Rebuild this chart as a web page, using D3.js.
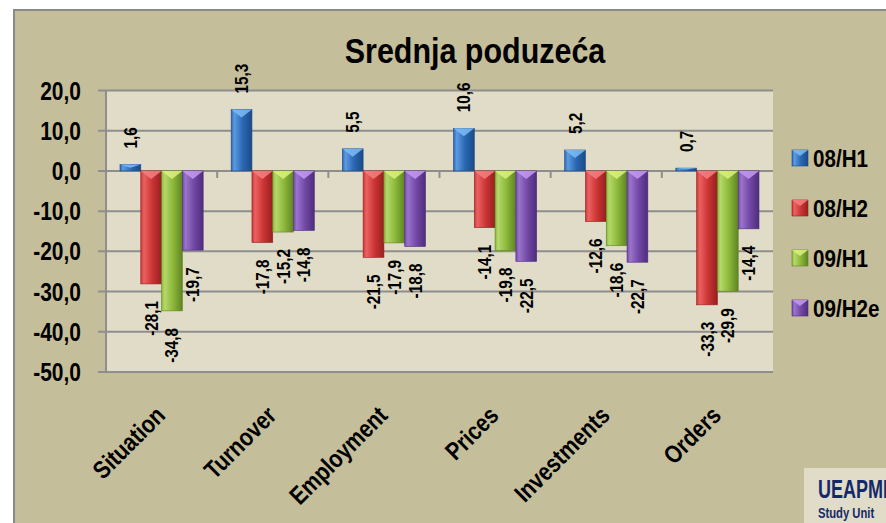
<!DOCTYPE html>
<html>
<head>
<meta charset="utf-8">
<script src="https://cdn.jsdelivr.net/npm/d3@7/dist/d3.min.js"></script>
<style>
    body { margin: 0; background: #ffffff; }
    svg text { font-family: "Liberation Sans", Arial, sans-serif; font-weight: bold; }
</style>
</head>
<body>
<script>
/* ========================== Data ========================= */
var categories = ["Situation", "Turnover", "Employment", "Prices", "Investments", "Orders"];
var seriesNames = ["08/H1", "08/H2", "09/H1", "09/H2e"];
var h1_08 = [1.6, 15.3, 5.5, 10.6, 5.2, 0.7];
var h2_08 = [-28.1, -17.8, -21.5, -14.1, -12.6, -33.3];
var h1_09 = [-34.8, -15.2, -17.9, -19.8, -18.6, -29.9];
var h2e_09 = [-19.7, -14.8, -18.8, -22.5, -22.7, -14.4];
var yTicks = [20, 10, 0, -10, -20, -30, -40, -50];
var chartTitle = "Srednja poduzeća";

/* ========= Constants ========= */
var w = 886;
var h = 523;
var plotLeft = 106;
var plotRight = 773;
var plotTop = 90.5;
var plotBottom = 372;
var outerColor = "#c5be9a";
var plotColor = "#e0dcc7";
var gridColor = "#8e8e8e";
var textColor = "#000000";
// base / light / dark / cap colour for each series
var seriesColors = [
    {base: "#2a68b4", light: "#5c9be0", dark: "#1b4a86", cap: "#7dbcf5"},
    {base: "#cc3434", light: "#ea6262", dark: "#952020", cap: "#f58080"},
    {base: "#8cb83a", light: "#b4d86a", dark: "#5f8422", cap: "#dcf27a"},
    {base: "#7249a6", light: "#9a74cc", dark: "#4e2d7c", cap: "#c59af2"}
];
var seriesValues = [h1_08, h2_08, h1_09, h2e_09];

function fmt(v) {
    // comma decimals and a plain hyphen for the minus sign
    return d3.format(".1f")(v).replace(".", ",").replace("\u2212", "-");
}

/* ========= Create SVG ========= */
var svg = d3.select("body")
    .append("svg")
    .attr("width", w)
    .attr("height", h);

// gradients for the bevelled bars
var defs = svg.append("defs");
seriesColors.forEach(function (c, i) {
    var g = defs.append("linearGradient")
        .attr("id", "grad" + i)
        .attr("x1", "0").attr("x2", "1").attr("y1", "0").attr("y2", "0");
    g.append("stop").attr("offset", "0").attr("stop-color", c.base);
    g.append("stop").attr("offset", "0.15").attr("stop-color", c.light);
    g.append("stop").attr("offset", "0.55").attr("stop-color", c.base);
    g.append("stop").attr("offset", "1").attr("stop-color", c.dark);
});

// chart background and border
svg.append("rect")
    .attr("x", 14).attr("y", 10)
    .attr("width", w).attr("height", h)
    .attr("fill", outerColor)
    .attr("stroke", "#8a8a8a")
    .attr("stroke-width", 2);

// plot area
svg.append("rect")
    .attr("x", plotLeft).attr("y", plotTop)
    .attr("width", plotRight - plotLeft).attr("height", plotBottom - plotTop)
    .attr("fill", plotColor);

/* ==================== Scales ======================== */
var x0 = d3.scaleBand()
    .domain(categories)
    .range([plotLeft, plotRight]);
var x1 = d3.scaleBand()
    .domain(seriesNames)
    .range([14, x0.bandwidth() - 14]);
var yScale = d3.scaleLinear()
    .domain([-50, 20])
    .range([plotBottom, plotTop]);

/* ==================== Grid and axes ======================== */
svg.append("g")
    .selectAll("line")
    .data(yTicks)
    .enter()
    .append("line")
    .attr("x1", plotLeft - 8)
    .attr("x2", plotRight)
    .attr("y1", function (d) { return yScale(d); })
    .attr("y2", function (d) { return yScale(d); })
    .attr("stroke", gridColor)
    .attr("stroke-width", 2);

svg.append("line")
    .attr("x1", plotLeft).attr("x2", plotLeft)
    .attr("y1", plotTop).attr("y2", plotBottom)
    .attr("stroke", gridColor)
    .attr("stroke-width", 2);

// category separators under the zero line
svg.append("g")
    .selectAll("line")
    .data(categories.slice(1))
    .enter()
    .append("line")
    .attr("x1", function (d) { return x0(d); })
    .attr("x2", function (d) { return x0(d); })
    .attr("y1", yScale(0))
    .attr("y2", yScale(0) + 7)
    .attr("stroke", gridColor)
    .attr("stroke-width", 2);

// y tick labels
svg.append("g")
    .selectAll("text")
    .data(yTicks)
    .enter()
    .append("text")
    .attr("transform", function (d) {
        return "translate(81," + (yScale(d) + 9) + ") scale(0.84,1)";
    })
    .attr("text-anchor", "end")
    .attr("font-size", "25px")
    .attr("fill", textColor)
    .text(function (d) { return fmt(d); });

// x category labels
svg.append("g")
    .selectAll("text")
    .data(categories)
    .enter()
    .append("text")
    .attr("transform", function (d) {
        var cx = x0(d) + x0.bandwidth() / 2 + 5;
        return "translate(" + cx + ",417) rotate(-45) scale(0.84,1)";
    })
    .attr("text-anchor", "end")
    .attr("font-size", "25px")
    .attr("fill", textColor)
    .text(function (d) { return d; });

/* ==================== Bars ======================== */
seriesNames.forEach(function (s, i) {
    var vals = seriesValues[i];
    var bw = x1.bandwidth();
    var g = svg.append("g");
    var bars = g.selectAll("g")
        .data(vals)
        .enter()
        .append("g");

    bars.append("rect")
        .attr("x", function (d, j) { return x0(categories[j]) + x1(s); })
        .attr("y", function (d) { return yScale(Math.max(d, 0)); })
        .attr("width", bw)
        .attr("height", function (d) { return Math.abs(yScale(d) - yScale(0)); })
        .attr("fill", "url(#grad" + i + ")")
        .attr("stroke", seriesColors[i].dark)
        .attr("stroke-width", 0.6);

    // light bevel triangle on the top edge
    bars.append("path")
        .attr("d", function (d, j) {
            var bx = x0(categories[j]) + x1(s);
            var top = yScale(Math.max(d, 0));
            var depth = Math.min(8, Math.abs(yScale(d) - yScale(0)) / 2);
            return "M" + bx + "," + top + "L" + (bx + bw) + "," + top +
                "L" + (bx + bw / 2) + "," + (top + depth) + "Z";
        })
        .attr("fill", seriesColors[i].cap)
        .attr("opacity", 0.85);

    // value labels
    bars.append("text")
        .attr("transform", function (d, j) {
            var cx = x0(categories[j]) + x1(s) + bw / 2 + 6.5;
            var cy = d >= 0 ? yScale(d) - 16 : yScale(d) + 17;
            return "translate(" + cx + "," + cy + ") rotate(-90) scale(0.85,1)";
        })
        .attr("text-anchor", function (d) { return d >= 0 ? "start" : "end"; })
        .attr("font-size", "18px")
        .attr("fill", textColor)
        .text(function (d) { return fmt(d); });
});

/* ==================== Title ======================== */
svg.append("text")
    .attr("transform", "translate(475,63) scale(0.87,1)")
    .attr("text-anchor", "middle")
    .attr("font-size", "35px")
    .attr("fill", textColor)
    .text(chartTitle);

/* ==================== Legend ======================== */
var legend = svg.append("g")
    .selectAll("g")
    .data(seriesNames)
    .enter()
    .append("g")
    .attr("transform", function (d, i) { return "translate(792," + (150 + i * 50) + ")"; });

legend.append("rect")
    .attr("width", 16).attr("height", 16)
    .attr("fill", function (d, i) { return "url(#grad" + i + ")"; })
    .attr("stroke", function (d, i) { return seriesColors[i].dark; })
    .attr("stroke-width", 0.6);
legend.append("path")
    .attr("d", "M0,0L16,0L8,6Z")
    .attr("fill", function (d, i) { return seriesColors[i].cap; })
    .attr("opacity", 0.85);
legend.append("text")
    .attr("transform", "translate(21,16.5) scale(0.86,1)")
    .attr("font-size", "24px")
    .attr("fill", textColor)
    .text(function (d) { return d; });

/* ==================== Logo box ======================== */
svg.append("rect")
    .attr("x", 804).attr("y", 468)
    .attr("width", 100).attr("height", 60)
    .attr("fill", plotColor);
svg.append("text")
    .attr("transform", "translate(818,498) scale(0.72,1)")
    .attr("font-size", "25px")
    .attr("fill", "#13296b")
    .text("UEAPME");
svg.append("text")
    .attr("transform", "translate(818,518) scale(0.75,1)")
    .attr("font-size", "15px")
    .attr("fill", "#13296b")
    .text("Study Unit");
</script>
</body>
</html>
